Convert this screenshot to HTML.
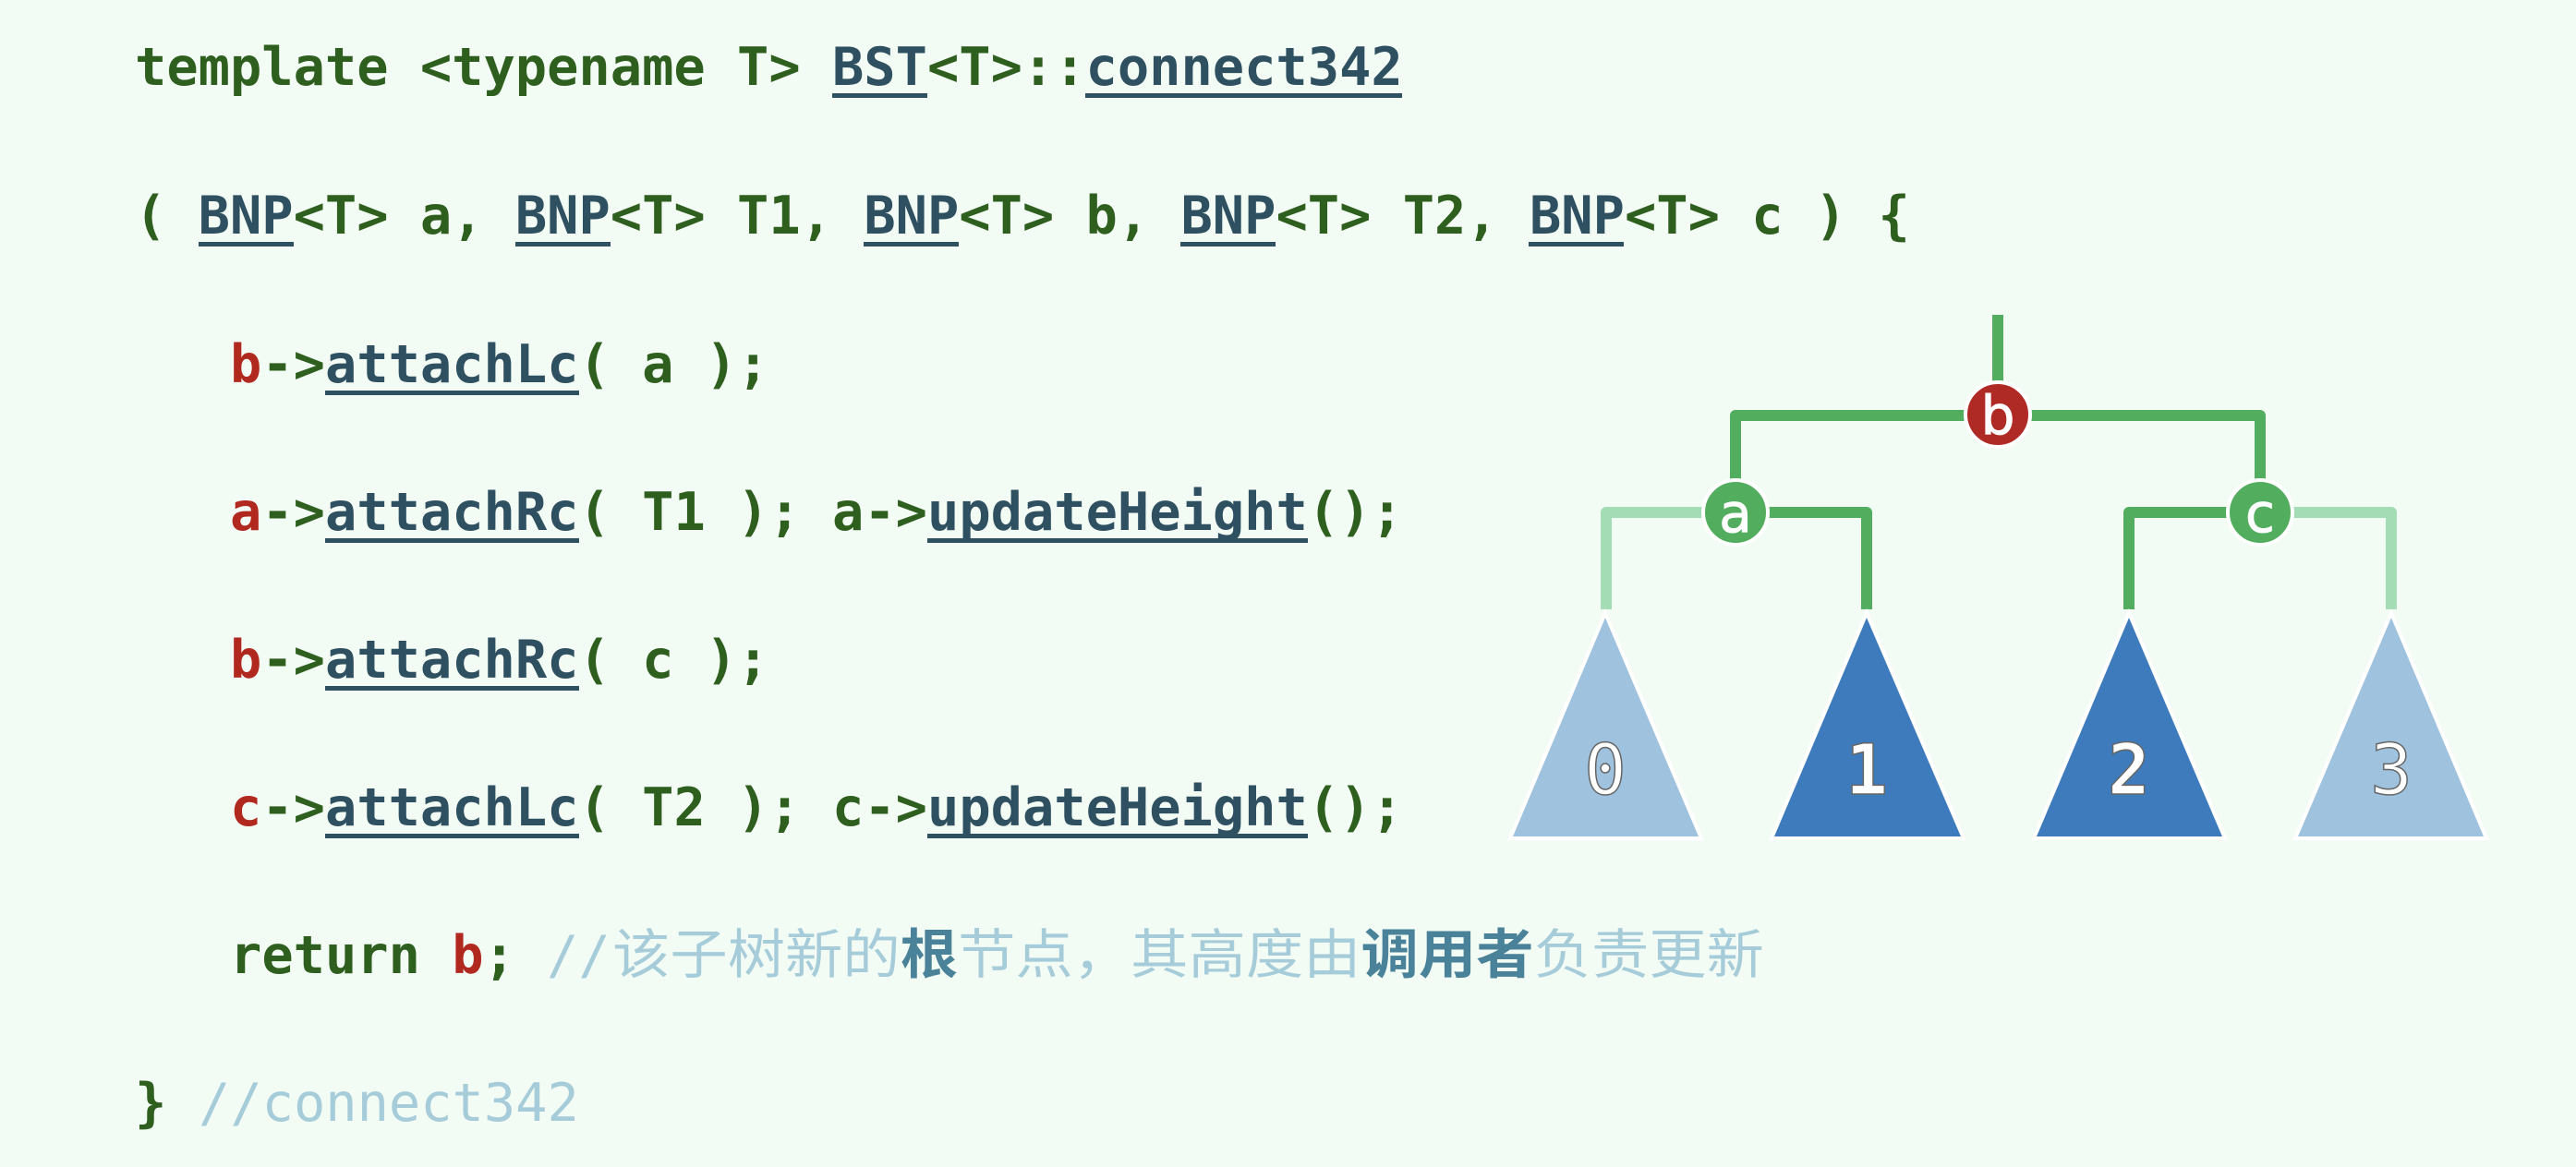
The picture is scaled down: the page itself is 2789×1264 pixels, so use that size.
<!DOCTYPE html>
<html><head><meta charset="utf-8"><style>
html,body{margin:0;padding:0;background:#f3fcf4;}
svg{display:block}
text,tspan{white-space:pre}
.m{font-family:"DejaVu Sans Mono","Liberation Mono",monospace;font-size:57px;font-weight:bold;fill:#2f5f1f;}
.k{fill:#2f5060}
.r{fill:#b0281e}
.c{font-weight:normal;fill:#a6ccda}
.cj{font-family:"Liberation Sans","Noto Sans CJK SC",sans-serif;font-size:58px;fill:#a6ccda}
.cb{font-weight:bold;fill:#4a8299}
</style></head><body>
<svg width="2789" height="1264" viewBox="0 0 2789 1264" xmlns="http://www.w3.org/2000/svg">
<rect width="2789" height="1264" fill="#f3fcf4"/>
<g class="m">
<text x="146" y="92">template &lt;typename T&gt; <tspan class="k">BST</tspan>&lt;T&gt;::<tspan class="k">connect342</tspan></text>
<text x="146" y="253">( <tspan class="k">BNP</tspan>&lt;T&gt; a, <tspan class="k">BNP</tspan>&lt;T&gt; T1, <tspan class="k">BNP</tspan>&lt;T&gt; b, <tspan class="k">BNP</tspan>&lt;T&gt; T2, <tspan class="k">BNP</tspan>&lt;T&gt; c ) {</text>
<text x="249" y="414"><tspan class="r">b</tspan>-&gt;<tspan class="k">attachLc</tspan>( a );</text>
<text x="249" y="574"><tspan class="r">a</tspan>-&gt;<tspan class="k">attachRc</tspan>( T1 ); a-&gt;<tspan class="k">updateHeight</tspan>();</text>
<text x="249" y="734"><tspan class="r">b</tspan>-&gt;<tspan class="k">attachRc</tspan>( c );</text>
<text x="249" y="894"><tspan class="r">c</tspan>-&gt;<tspan class="k">attachLc</tspan>( T2 ); c-&gt;<tspan class="k">updateHeight</tspan>();</text>
<text x="249" y="1054">return <tspan class="r">b</tspan>;</text>
<text x="592" y="1054" class="c">//</text>
<text x="146" y="1214">}</text>
<text x="215" y="1214" class="c">//connect342</text>
</g>
<text class="cj" x="663" y="1054" textLength="1247" lengthAdjust="spacingAndGlyphs">该子树新的<tspan class="cb">根</tspan>节点，其高度由<tspan class="cb">调用者</tspan>负责更新</text>
<g fill="#2f5060">
<rect x="901" y="101" width="103" height="5"/>
<rect x="1175" y="101" width="343" height="5"/>
<rect x="215" y="262" width="103" height="5"/>
<rect x="558" y="262" width="103" height="5"/>
<rect x="935" y="262" width="103" height="5"/>
<rect x="1278" y="262" width="103" height="5"/>
<rect x="1655" y="262" width="103" height="5"/>
<rect x="352" y="423" width="275" height="5"/>
<rect x="352" y="583" width="275" height="5"/>
<rect x="1004" y="583" width="412" height="5"/>
<rect x="352" y="743" width="275" height="5"/>
<rect x="352" y="903" width="275" height="5"/>
<rect x="1004" y="903" width="412" height="5"/>
</g>
<g fill="none" stroke-width="12" stroke-linejoin="round">
<path d="M2163 341 V420" stroke="#52ad5e"/>
<path d="M1879 555 V450 H2447 V555" stroke="#52ad5e"/>
<path d="M1879 555 H2021 V660" stroke="#52ad5e"/>
<path d="M2447 555 H2305 V660" stroke="#52ad5e"/>
<path d="M1879 555 H1739 V660" stroke="#a3dcb5"/>
<path d="M2447 555 H2589 V660" stroke="#a3dcb5"/>
</g>
<g stroke="#fff" stroke-width="4">
<polygon points="1738,664 1635,908 1842,908" fill="#9fc2df"/>
<polygon points="2021,664 1918,908 2126,908" fill="#3e7bbd"/>
<polygon points="2305,664 2202,908 2409,908" fill="#3e7bbd"/>
<polygon points="2589,664 2485,908 2692,908" fill="#9fc2df"/>
<circle cx="2163" cy="449" r="35" fill="#b02a25"/>
<circle cx="1879" cy="555" r="35" fill="#52ad5e"/>
<circle cx="2447" cy="555" r="35" fill="#52ad5e"/>
</g>
<g font-family="DejaVu Sans Mono,monospace" fill="#fff" stroke="#666" stroke-width="1.5" text-anchor="middle">
<text x="1738" y="860" font-size="76">0</text>
<text x="2021" y="860" font-size="76" font-weight="bold">1</text>
<text x="2305" y="860" font-size="76" font-weight="bold">2</text>
<text x="2589" y="860" font-size="76">3</text>
</g>
<g font-family="DejaVu Sans,sans-serif" fill="#fff" stroke="#fff" stroke-width="1" text-anchor="middle" font-size="58">
<text x="2163" y="470">b</text>
<text x="1879" y="576">a</text>
<text x="2447" y="576">c</text>
</g>
</svg>
</body></html>
